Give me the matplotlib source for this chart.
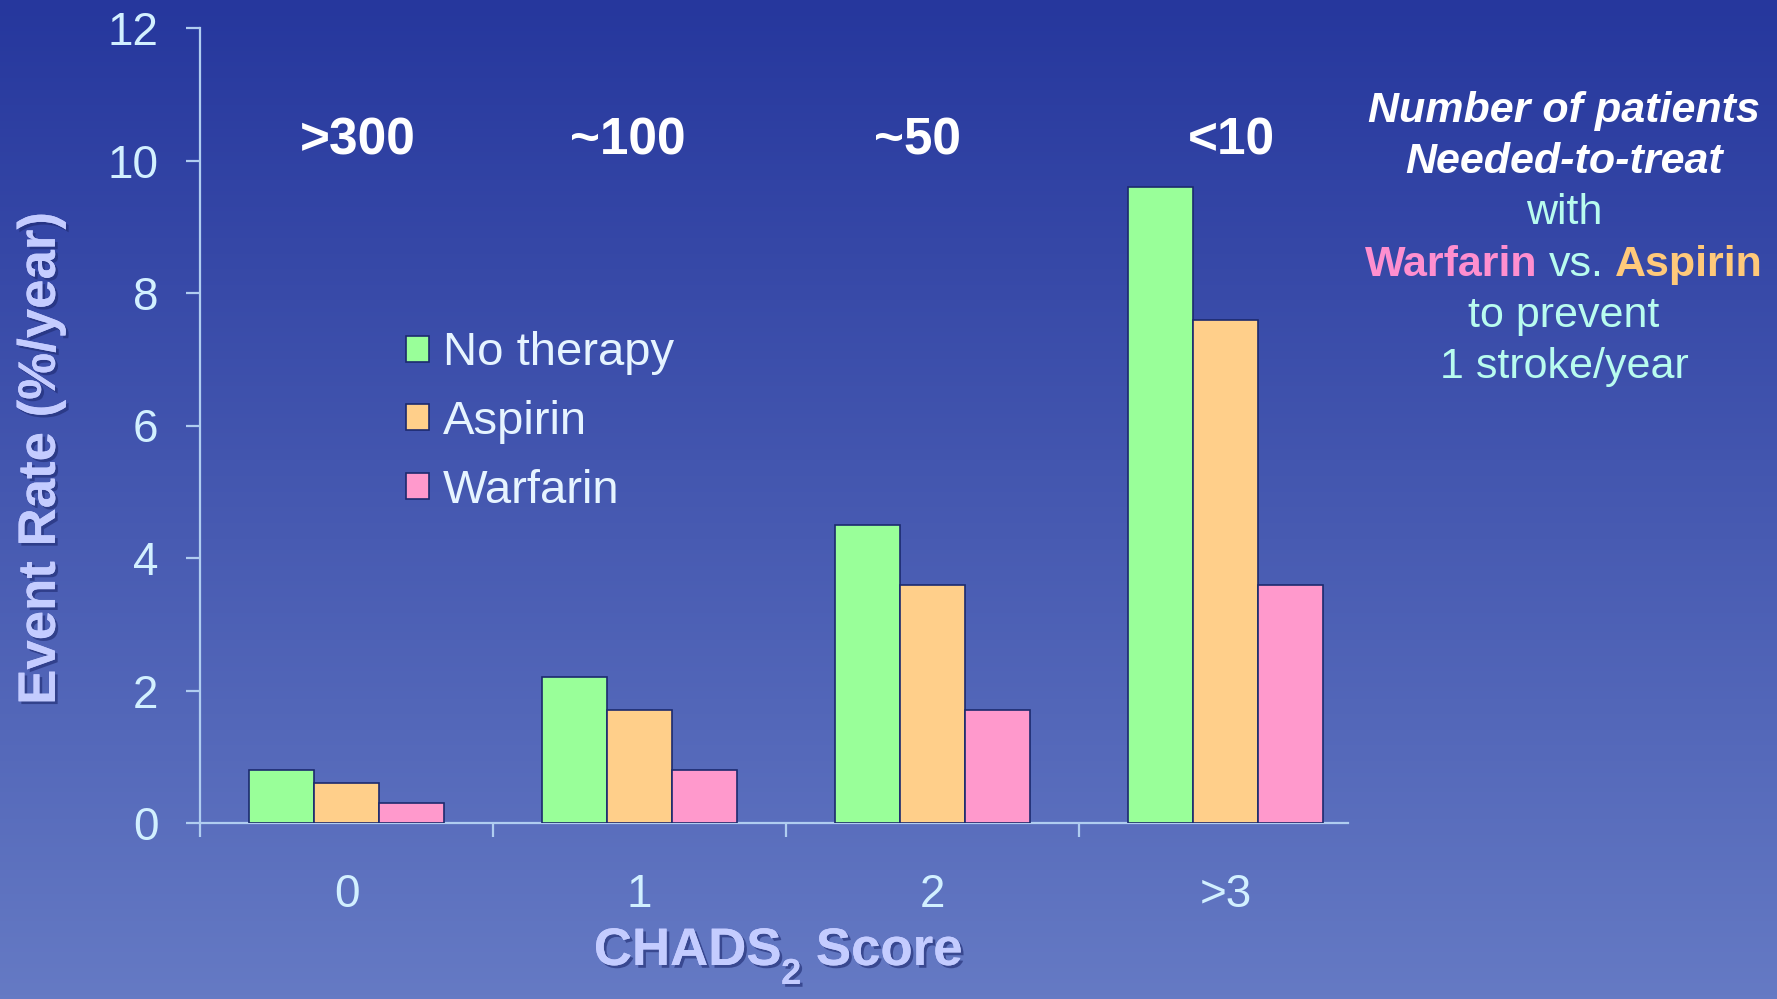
import numpy as np
import matplotlib
matplotlib.use("Agg")
import matplotlib.pyplot as plt
import matplotlib.patheffects as pe
from matplotlib.offsetbox import TextArea, HPacker, AnnotationBbox

plt.rcParams['font.family'] = ['Liberation Sans', 'DejaVu Sans']

# data
scores = ['0', '1', '2', '>3']
no_therapy = [0.8, 2.2, 4.5, 9.6]
aspirin = [0.6, 1.7, 3.6, 7.6]
warfarin = [0.3, 0.8, 1.7, 3.6]
nnt_labels = ['>300', '~100', '~50', '<10']
nnt_x = [0.04, 0.96, 1.95, 3.02]

series_names = ['No therapy', 'Aspirin', 'Warfarin']
series_colors = ['#99ff99', '#ffcf8a', '#ff99cc']

W, H = 1777, 999
fig = plt.figure(figsize=(W / 100, H / 100), dpi=100)

# gradient background
bg = fig.add_axes([0, 0, 1, 1], zorder=-10)
top = np.array([0x26, 0x37, 0x9d]) / 255
bot = np.array([0x65, 0x7a, 0xc4]) / 255
t = np.linspace(0, 1, 256)[:, None]
grad = top[None, :] * (1 - t) + bot[None, :] * t
bg.imshow(grad[:, None, :], aspect='auto', extent=[0, 1, 0, 1])
bg.axis('off')

ax = fig.add_axes([200 / W, 1 - 823 / H, (1348 - 200) / W, (823 - 28) / H])
ax.set_facecolor('none')

bw = 0.222
x = np.arange(len(scores))
edge = '#1c2a6e'
for i, (vals, name, c) in enumerate(zip([no_therapy, aspirin, warfarin], series_names, series_colors)):
    ax.bar(x + (i - 1) * bw, vals, bw, color=c, edgecolor=edge, linewidth=1.2, label=name, zorder=3)

ax.set_xlim(-0.5, 3.418)
ax.set_ylim(0, 12)

spine_c = '#b0cdf0'
for s in ['top', 'right']:
    ax.spines[s].set_visible(False)
for s in ['left', 'bottom']:
    ax.spines[s].set_color(spine_c)
    ax.spines[s].set_linewidth(1.6)

tick_c = '#d2f0ff'
ax.set_yticks(range(0, 13, 2))
ax.tick_params(axis='y', direction='out', length=10, width=1.6, color=spine_c,
               labelsize=33, labelcolor=tick_c, pad=20)
ax.set_xticks([-0.5, 0.5, 1.5, 2.5])
ax.set_xticklabels([])
ax.tick_params(axis='x', which='major', direction='out', length=10, width=1.6, color=spine_c)
ax.set_xticks(x, minor=True)
ax.set_xticklabels(scores, minor=True)
ax.tick_params(axis='x', which='minor', length=0, labelsize=33, labelcolor=tick_c, pad=36)

for lx, lab in zip(nnt_x, nnt_labels):
    ax.text(lx, 10.3, lab, ha='center', va='center', fontsize=37,
            fontweight='bold', color='white')

leg = fig.legend(loc='center left', bbox_to_anchor=(406 / W, 1 - 422 / H), frameon=False,
                 fontsize=34, handlelength=0.48, handleheight=0.48, handletextpad=0.3,
                 labelspacing=0.52, borderpad=0, borderaxespad=0)
for txt in leg.get_texts():
    txt.set_color('#e6f4ff')

shadow = [pe.withSimplePatchShadow(offset=(2, -2), shadow_rgbFace='#1e2a70', alpha=0.6), pe.Normal()]
lab_c = '#c4ccff'
fig.text(0.023, 1 - 459 / H, 'Event Rate (%/year)', rotation=90, ha='center', va='center',
         fontsize=38, fontweight='bold', color=lab_c, path_effects=shadow)

# x label: CHADS + lowered subscript 2 + Score
fig.canvas.draw()
rend = fig.canvas.get_renderer()
base_y = 1 - 965 / H
sub_y = 1 - 984 / H
parts = [('CHADS', 38, base_y), ('2', 26, sub_y), (' Score', 38, base_y)]
arts = [fig.text(0, yy, s, ha='left', va='baseline', fontsize=f, fontweight='bold',
                 color=lab_c, path_effects=shadow) for s, f, yy in parts]
widths = [a.get_window_extent(rend).width for a in arts]
x0 = 778 - sum(widths) / 2
for a, w in zip(arts, widths):
    a.set_x(x0 / W)
    x0 += w

# right-hand note
cx = 1564 / W
cyan = '#b8fcef'
fs = 31
fig.text(cx, 1 - 111 / H, 'Number of patients', ha='center', va='center', fontsize=fs,
         fontweight='bold', style='italic', color='white')
fig.text(cx, 1 - 162 / H, 'Needed-to-treat', ha='center', va='center', fontsize=fs,
         fontweight='bold', style='italic', color='white')
fig.text(cx, 1 - 213 / H, 'with', ha='center', va='center', fontsize=fs, color=cyan)
row = HPacker(children=[
    TextArea('Warfarin', textprops=dict(fontsize=fs, fontweight='bold', color='#ff8fcf')),
    TextArea('vs.', textprops=dict(fontsize=fs, color=cyan)),
    TextArea('Aspirin', textprops=dict(fontsize=fs, fontweight='bold', color='#ffc97a')),
], sep=8, align='baseline')
ab = AnnotationBbox(row, (cx, 1 - 265 / H), xycoords='figure fraction', frameon=False,
                    box_alignment=(0.5, 0.5), pad=0)
fig.add_artist(ab)
fig.text(cx, 1 - 316 / H, 'to prevent', ha='center', va='center', fontsize=fs, color=cyan)
fig.text(cx, 1 - 367 / H, '1 stroke/year', ha='center', va='center', fontsize=fs, color=cyan)

fig.savefig('out.png', dpi=100)
